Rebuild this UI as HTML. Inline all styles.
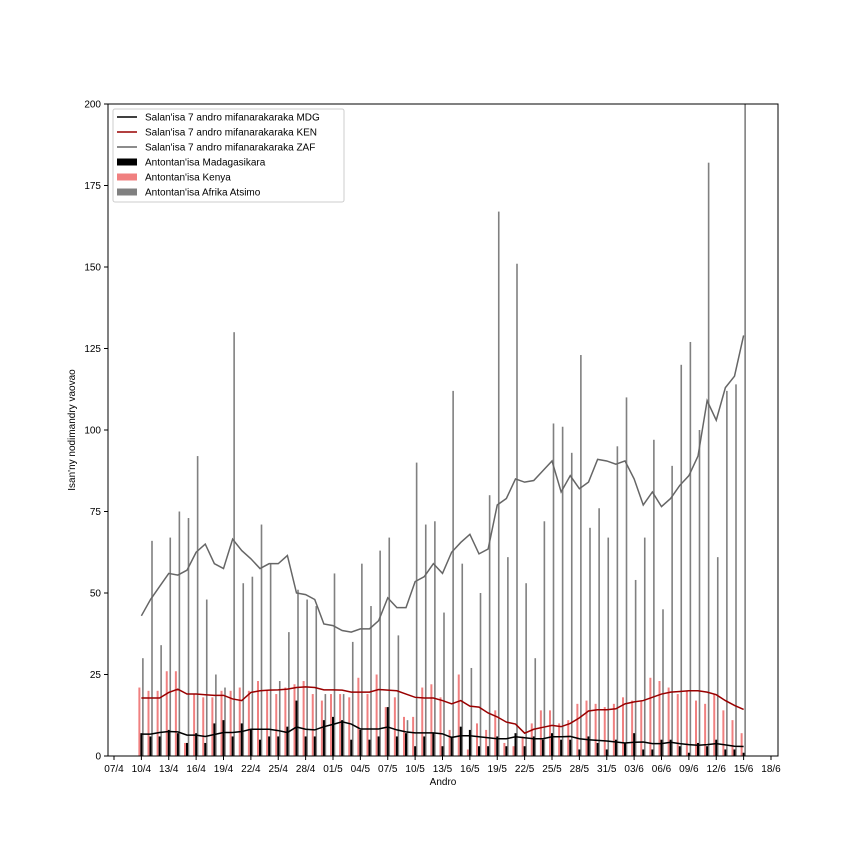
<!DOCTYPE html>
<html><head><meta charset="utf-8"><style>
body{margin:0;background:#fff}
svg{display:block;font-family:"Liberation Sans",sans-serif}
</style></head><body>
<svg id="chart" width="864" height="864" viewBox="0 0 864 864"></svg>
<script>
const xTickLabels=["07/4","10/4","13/4","16/4","19/4","22/4","25/4","28/4","01/5","04/5","07/5","10/5","13/5","16/5","19/5","22/5","25/5","28/5","31/5","03/6","06/6","09/6","12/6","15/6","18/6"];
const yTicks=[0,25,50,75,100,125,150,175,200];
const mdgDaily=[7,6,6,8,7,4,7,4,10,11,6,10,8,5,6,6,9,17,6,6,11,12,11,5,8,5,6,15,6,7,3,6,7,3,6,9,8,3,3,6,3,7,3,6,5,7,5,5,2,6,4,2,5,4,7,2,2,5,5,3,1,4,3,5,2,2,1];
const kenDaily=[21,20,20,26,26,4,19,18,18,20,20,21,20,23,20,19,21,22,23,19,17,19,19,18,24,19,25,15,18,12,12,21,22,18,8,25,2,10,8,14,4,3,6,10,14,14,10,11,16,17,16,15,16,18,17,17,24,23,21,19,20,17,16,19,14,11,7];
const zafDaily=[30,66,34,67,75,73,92,48,25,21,130,53,55,71,59,23,38,51,48,46,19,56,19,35,59,46,63,67,37,11,90,71,72,44,112,59,27,50,80,167,61,151,53,30,72,102,101,93,123,70,76,67,95,110,54,67,97,45,89,120,127,100,182,61,112,114,215];
const mdgAvg=[6.7,6.7,7.2,7.5,7.4,6.4,6.4,6,6.6,7.2,7.2,7.5,8.2,8.2,8.2,7.8,7.2,8.9,8.2,8,9,9.7,10.5,9.8,8.3,8.3,8.3,8.9,8,7.4,7.1,7.1,7.1,6.8,5.7,6.2,6.2,5.9,5.6,5.3,5.3,5.9,5.6,5.3,5.3,5.9,5.9,6,5.3,5,4.8,4.6,4.3,4,4.2,4.3,3.8,3.8,4.2,3.8,3.5,3.3,3.5,3.8,3.4,3,2.9];
const kenAvg=[17.8,17.8,17.8,19.5,20.5,19,19,18.8,18.6,18.6,17.5,17,19.5,20,20.2,20.3,20.5,21,21.2,21,20.3,20.3,20.2,19.6,19.6,19.6,20.4,20.2,20,19,18,17.8,17.8,17,16,17,15.3,15,13.2,12,10.4,9.8,7,8.2,8.8,9.4,9,10,11.7,13.8,14.2,14.2,14.5,16,16.6,17,18,19,19.6,19.8,20,20,19.6,18.8,17,15.5,14.3];
const zafAvg=[43,48,52,56,55.5,57,62.5,65,59,57.5,66.5,63,60.5,57.5,59,59,61.5,50,49.5,48,40.5,40,38.5,38,39,39,41.5,48.5,45.5,45.5,53.5,55,59,56,62.5,65.5,68,62,63.5,77,79,85,84,84.5,87.5,90.5,81,86,82,84,91,90.5,89.5,90.5,85,77,81,76.5,79,83,86,92,109,103,113,116.5,129];
const firstDayOffset=3;

const NS="http://www.w3.org/2000/svg";
const svg=document.getElementById("chart");
const L=108,R=778,T=104,B=756;
const X0=114,DX=9.125;
function xs(i){return X0+i*DX;}
function ys(v){return B-(Math.min(v,200))*(B-T)/200;}
function mk(tag,attrs,parent){const e=document.createElementNS(NS,tag);for(const k in attrs)e.setAttribute(k,attrs[k]);(parent||svg).appendChild(e);return e;}

const clip=mk("clipPath",{id:"pc"});mk("rect",{x:L,y:T,width:R-L,height:B-T},clip);
const plot=mk("g",{"clip-path":"url(#pc)"});



function bars(arr,off,w,color,name){
  arr.forEach((v,i)=>{const c=xs(i+firstDayOffset);const y=ys(v);
    const r=mk("rect",{x:c+off,y:y,width:w,height:B-y,fill:color},plot);
    
    
  });
}
bars(kenDaily,-3,2,"#f08080","bar-kenya");
bars(zafDaily,0.7,1.6,"#808080","bar-south-africa");
bars(mdgDaily,-1,2,"#000000","bar-madagascar");

function line(arr,color,name){
  const p=arr.map((v,i)=>xs(i+firstDayOffset).toFixed(2)+","+ys(v).toFixed(2)).join(" ");
  const e=mk("polyline",{points:p,fill:"none",stroke:color,"stroke-width":1.5},plot);
  
  
}
line(zafAvg,"#666666","line-south-africa-avg");
line(kenAvg,"#990000","line-kenya-avg");
line(mdgAvg,"#000000","line-madagascar-avg");

const frame=mk("rect",{x:L,y:T,width:R-L,height:B-T,fill:"none",stroke:"#000","stroke-width":1});



xTickLabels.forEach((t,k)=>{const x=xs(k*3);
  mk("line",{x1:x,x2:x,y1:B,y2:B+4,stroke:"#000"});
  const tx=mk("text",{x:x,y:B+16,"font-size":10,"text-anchor":"middle"});tx.textContent=t;
  
  
});
yTicks.forEach(v=>{const y=ys(v);
  mk("line",{x1:L-4,x2:L,y1:y,y2:y,stroke:"#000"});
  const tx=mk("text",{x:L-7,y:y+3.5,"font-size":10,"text-anchor":"end"});tx.textContent=v;
  
  
});
const xl=mk("text",{x:443,y:785,"font-size":10,"text-anchor":"middle"});xl.textContent="Andro";


const yl=mk("text",{x:0,y:0,"font-size":10,"text-anchor":"middle",transform:"translate(75,430) rotate(-90)"});yl.textContent="Isan'ny nodimandry vaovao";



const lg=mk("g",{});


mk("rect",{x:113,y:109,width:231,height:93,fill:"#fff","fill-opacity":0.85,stroke:"#ccc",rx:2},lg);
const legendItems=[["line","#000","Salan'isa 7 andro mifanarakaraka MDG"],["line","#990000","Salan'isa 7 andro mifanarakaraka KEN"],["line","#666","Salan'isa 7 andro mifanarakaraka ZAF"],["patch","#000","Antontan'isa Madagasikara"],["patch","#f08080","Antontan'isa Kenya"],["patch","#808080","Antontan'isa Afrika Atsimo"]];
legendItems.forEach((it,k)=>{const y=117+k*15;
  if(it[0]==="line")mk("line",{x1:117,x2:137,y1:y,y2:y,stroke:it[1],"stroke-width":1.5},lg);
  else mk("rect",{x:117,y:y-3.5,width:20,height:7,fill:it[1]},lg);
  const t=mk("text",{x:145,y:y+3.5,"font-size":10},lg);t.textContent=it[2];
  
  
});
</script>
</body></html>
